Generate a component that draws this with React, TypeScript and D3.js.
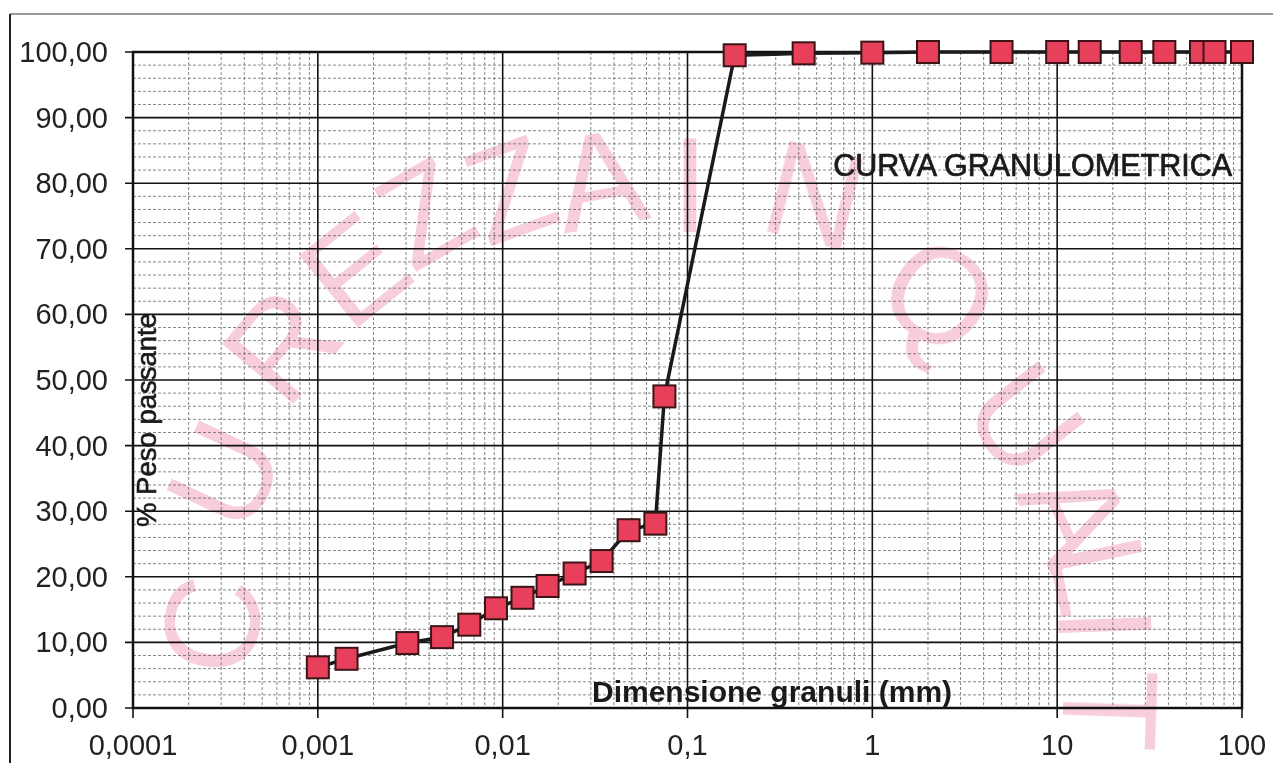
import * as d3 from "d3";

// diametro dei grani (mm) e percentuale passante
const diametri = [
  0.001, 0.00143, 0.00305, 0.0047, 0.0066, 0.0092, 0.0128, 0.0175, 0.0245,
  0.0343, 0.048, 0.067, 0.075, 0.18, 0.425, 1, 2, 5, 10, 15, 25, 38, 60, 71,
  100,
];
const passante = [
  6.2, 7.5, 9.9, 10.8, 12.7, 15.2, 16.8, 18.6, 20.5, 22.4, 27.1, 28.1, 47.5,
  99.5, 99.8, 99.9, 100, 100, 100, 100, 100, 100, 100, 100, 100,
];

const xTicks = [0.0001, 0.001, 0.01, 0.1, 1, 10, 100];
const xTickLabels = ["0,0001", "0,001", "0,01", "0,1", "1", "10", "100"];
const yTicks = [0, 10, 20, 30, 40, 50, 60, 70, 80, 90, 100];
const yTickLabels = yTicks.map((v) => v.toFixed(2).replace(".", ","));

const titolo = "CURVA GRANULOMETRICA";
const xTitolo = "Dimensione granuli (mm)";
const yTitolo = "% Peso passante";

// filigrana (decorazione di sfondo)
const filigrana = [
  { c: "C", x: 212, y: 625, r: -82 },
  { c: "U", x: 225, y: 475, r: -65 },
  { c: "R", x: 282, y: 345, r: -50 },
  { c: "E", x: 355, y: 270, r: -39 },
  { c: "Z", x: 425, y: 213, r: -30 },
  { c: "Z", x: 510, y: 190, r: -20 },
  { c: "A", x: 600, y: 180, r: -10 },
  { c: "I", x: 690, y: 185, r: 0 },
  { c: "N", x: 815, y: 195, r: 14 },
  { c: "Q", x: 940, y: 295, r: 35 },
  { c: "U", x: 1025, y: 420, r: 52 },
  { c: "A", x: 1075, y: 515, r: 65 },
  { c: "L", x: 1100, y: 575, r: 78 },
  { c: "I", x: 1105, y: 625, r: 88 },
  { c: "T", x: 1110, y: 710, r: 92 },
];

const W = 1273;
const H = 763;
const margin = { top: 52, right: 31, bottom: 55, left: 133 };
const font = "'Liberation Sans', Arial, sans-serif";

export default function App() {
  const x = d3
    .scaleLog()
    .domain([0.0001, 100])
    .range([margin.left, W - margin.right]);
  const y = d3
    .scaleLinear()
    .domain([0, 100])
    .range([H - margin.bottom, margin.top]);

  const [x0, x1] = x.range();
  const [y0, y1] = y.range();

  // griglia secondaria
  const xMinor: number[] = [];
  xTicks.slice(0, -1).forEach((d) => {
    for (let k = 2; k <= 9; k++) xMinor.push(d * k);
  });
  const yMinor = d3.range(0, 101, 2).filter((v) => v % 10 !== 0);

  const line = d3
    .line<number>()
    .x((_, i) => x(diametri[i]))
    .y((d) => y(d));

  const sq = 22;

  return (
    <svg
      width={W}
      height={H}
      style={{ position: "absolute", left: 0, top: 0, background: "#fff" }}
      fontFamily={font}
    >
      <rect width={W} height={H} fill="#fff" />
      {/* bordo esterno */}
      <line x1={10} x2={W} y1={14} y2={14} stroke="#777" strokeWidth={1.5} />
      <line x1={10} x2={10} y1={14} y2={H} stroke="#222" strokeWidth={2} />

      {/* filigrana */}
      <g fill="#f3a5bf" opacity={0.55} fontSize={135}>
        {filigrana.map((f, i) => (
          <text
            key={i}
            transform={`translate(${f.x},${f.y}) rotate(${f.r})`}
            textAnchor="middle"
            dominantBaseline="central"
          >
            {f.c}
          </text>
        ))}
      </g>

      {/* griglia secondaria */}
      <g stroke="#555" strokeWidth={1} strokeDasharray="3,2" opacity={0.7}>
        {xMinor.map((d, i) => (
          <line key={"xm" + i} x1={x(d)} x2={x(d)} y1={y1} y2={y0} />
        ))}
        {yMinor.map((d, i) => (
          <line key={"ym" + i} x1={x0} x2={x1} y1={y(d)} y2={y(d)} />
        ))}
      </g>

      {/* griglia principale */}
      <g stroke="#111" strokeWidth={1.6}>
        {xTicks.map((d, i) => (
          <line key={"xM" + i} x1={x(d)} x2={x(d)} y1={y1} y2={y0 + 10} />
        ))}
        {yTicks.map((d, i) => (
          <line key={"yM" + i} x1={x0 - 8} x2={x1} y1={y(d)} y2={y(d)} />
        ))}
      </g>
      <rect
        x={x0}
        y={y1}
        width={x1 - x0}
        height={y0 - y1}
        fill="none"
        stroke="#111"
        strokeWidth={2.5}
      />

      {/* etichette assi */}
      <g fontSize={29} fill="#222">
        {yTicks.map((d, i) => (
          <text
            key={"yl" + i}
            x={108}
            y={y(d)}
            textAnchor="end"
            dominantBaseline="central"
          >
            {yTickLabels[i]}
          </text>
        ))}
        {xTicks.map((d, i) => (
          <text key={"xl" + i} x={x(d)} y={755} textAnchor="middle">
            {xTickLabels[i]}
          </text>
        ))}
      </g>

      <text
        x={1232}
        y={176}
        fontSize={30.5}
        textAnchor="end"
        fill="#1a1a1a"
        stroke="#1a1a1a"
        strokeWidth={0.7}
      >
        {titolo}
      </text>
      <text
        x={592}
        y={702}
        fontSize={30}
        fontWeight="bold"
        fill="#1a1a1a"
      >
        {xTitolo}
      </text>
      <text
        transform={`translate(156,420) rotate(-90)`}
        fontSize={27.5}
        textAnchor="middle"
        fill="#1a1a1a"
        stroke="#1a1a1a"
        strokeWidth={0.6}
      >
        {yTitolo}
      </text>

      {/* curva */}
      <path
        d={line(passante) || ""}
        fill="none"
        stroke="#1a1a1a"
        strokeWidth={3.5}
        strokeLinejoin="round"
      />
      {passante.map((d, i) => (
        <rect
          key={"p" + i}
          x={x(diametri[i]) - sq / 2}
          y={y(d) - sq / 2}
          width={sq}
          height={sq}
          fill="#e8405a"
          stroke="#3a1416"
          strokeWidth={2}
        />
      ))}
    </svg>
  );
}
